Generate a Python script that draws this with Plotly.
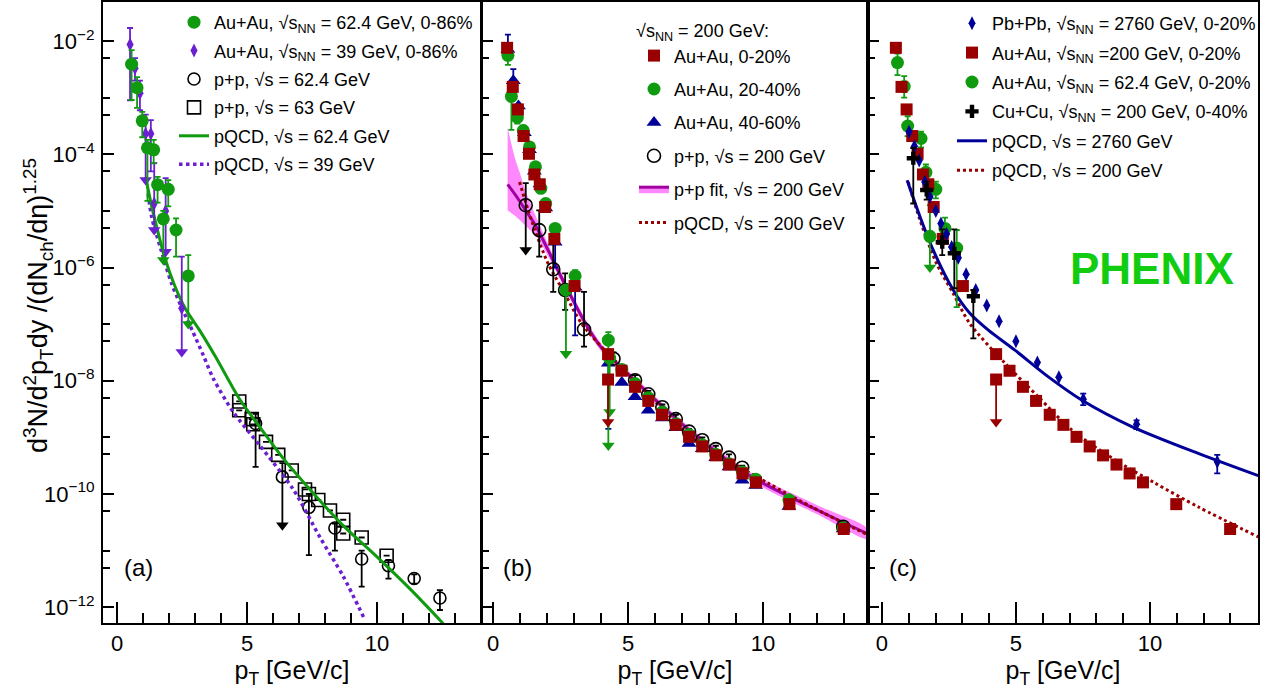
import plotly.graph_objects as go

# ---------------- data ----------------
# Panel (a): Au+Au 62.4 GeV 0-86% (green circles)
a_g_x = [0.56, 0.77, 0.97, 1.17, 1.41, 1.56, 1.78, 1.97, 2.27, 2.74]
a_g_y = [3.9e-3, 1.5e-3, 3.9e-4, 1.3e-4, 1.2e-4, 2.9e-5, 7.2e-6, 2.4e-5, 4.6e-6, 7.1e-7]
a_g_hi = [6.9e-3, 2.3e-3, 5.6e-4, 1.8e-4, 1.8e-4, 4.0e-5, 1.0e-5, 3.5e-5, 7.4e-6, 1.65e-6]
a_g_lo = [9.1e-4, 6.6e-4, 2.0e-4, 1.5e-5, 6.9e-5, 1.4e-5, 1.35e-6, 1.2e-5, 1.55e-6, 1.0e-7]
a_g_arrows = [6, 9]

# Panel (a): Au+Au 39 GeV 0-86% (violet diamonds)
a_v_x = [0.50, 0.69, 0.88, 1.10, 1.30, 1.43, 1.87, 2.49]
a_v_y = [8.7e-3, 3.3e-3, 1.2e-3, 2.3e-4, 2.3e-4, 1.35e-5, 1.0e-5, 1.9e-7]
a_v_hi = [1.7e-2, 5.0e-3, 2.0e-3, 5.0e-4, 4.0e-4, 7.0e-5, 3.8e-5, 1.55e-6]
a_v_lo = [9.0e-4, 2.0e-3, 6.0e-4, 3.5e-5, 5.0e-5, 4.6e-6, 1.9e-6, 3.2e-8]
a_v_arrows = [3, 5, 6, 7]

# Panel (a): p+p 62.4 GeV (open circles)
a_c_x = [5.33, 6.36, 7.38, 8.38, 9.41, 10.44, 11.43, 12.42]
a_c_y = [1.75e-9, 2.0e-10, 5.8e-11, 2.5e-11, 7.1e-12, 5.4e-12, 3.2e-12, 1.45e-12]
a_c_hi = [2.6e-9, 3.5e-10, 1.0e-10, 3.0e-11, 1.0e-11, 6.8e-12, 3.8e-12, 2.0e-12]
a_c_lo = [3.0e-10, 2.8e-11, 8.3e-12, 1.0e-11, 2.3e-12, 3.2e-12, 2.6e-12, 8.9e-13]
a_c_arrows = [1]

# Panel (a): p+p 63 GeV (open squares)
a_s_x = [4.70, 4.70, 5.18, 5.24, 5.73, 6.20, 6.72, 7.23, 7.38, 7.74, 8.19, 8.70, 8.70, 9.41, 10.37]
a_s_y = [4.3e-9, 3.0e-9, 2.1e-9, 1.7e-9, 8.3e-10, 4.9e-10, 2.6e-10, 1.2e-10, 1.0e-10,
         7.8e-11, 5.1e-11, 3.5e-11, 2.0e-11, 1.7e-11, 8.1e-12]

# Panel (a): pQCD curves
a_pq62_x = [1.10, 1.35, 1.59, 1.82, 2.2, 2.62, 3.19, 3.8, 4.73, 5.5, 6.4, 7.42, 8.7, 9.99, 11.27, 12.55]
a_pq62_y = [3.98e-5, 1.12e-5, 3.98e-6, 1.58e-6, 5.0e-7, 1.9e-7, 7.6e-8, 2.6e-8, 4.6e-9, 1.5e-9,
            4.2e-10, 1.2e-10, 2.75e-11, 7.8e-12, 2.1e-12, 5.1e-13]
a_pq39_x = [1.2, 1.33, 1.7, 2.1, 2.5, 2.9, 3.32, 3.7, 4.47, 5.5, 6.78, 7.81, 8.7, 9.54]
a_pq39_y = [2.0e-5, 7.9e-6, 2.0e-6, 5.2e-7, 1.9e-7, 7.6e-8, 2.8e-8, 1.1e-8, 2.8e-9, 7.1e-10,
            1.2e-10, 1.7e-11, 3.5e-12, 5.9e-13]

# Panels (b),(c): Au+Au 200 GeV 0-20% (red squares)
r_x = [0.52, 0.73, 0.92, 1.13, 1.33, 1.53, 1.73, 1.93, 2.27, 3.02, 4.26, 4.26, 4.76, 5.26, 5.75,
       6.26, 6.77, 7.26, 7.75, 8.25, 8.75, 9.24, 9.74, 10.98, 12.99]
r_y = [7.6e-3, 1.55e-3, 6.2e-4, 2.1e-4, 1.02e-4, 4.4e-5, 2.95e-5, 1.17e-5, 3.2e-6, 4.7e-7, 2.95e-8,
       1.05e-8, 1.5e-8, 7.8e-9, 4.4e-9, 2.5e-9, 1.66e-9, 1.02e-9, 6.9e-10, 4.8e-10, 3.3e-10,
       2.3e-10, 1.6e-10, 6.6e-11, 2.4e-11]
r_lo = [None] * 11 + [1.86e-9] + [None] * 13
r_arrows = [11]

# Panel (b): Au+Au 200 GeV 20-40% (green circles)
b_g_x = [0.55, 0.68, 0.90, 1.12, 1.35, 1.57, 1.77, 1.95, 2.30, 2.70, 3.04, 4.27, 4.32, 4.77, 5.26,
         5.75, 6.27, 6.77, 7.26, 7.75, 8.25, 8.74, 9.24, 9.73, 10.96, 12.97]
b_g_y = [5.6e-3, 1.05e-3, 4.47e-4, 2.63e-4, 1.35e-4, 6.0e-5, 2.5e-5, 1.35e-5, 4.9e-6, 4.0e-7, 7.1e-7,
         5.2e-8, 2.5e-8, 1.58e-8, 8.9e-9, 5.0e-9, 2.8e-9, 1.74e-9, 1.12e-9, 7.4e-10, 5.0e-10,
         3.4e-10, 2.45e-10, 1.82e-10, 7.9e-11, 2.5e-11]
b_g_hi = [7.0e-3, 1.4e-3, 5.6e-4, 3.2e-4, 1.6e-4, 7.0e-5, 2.9e-5, 1.6e-5, 5.6e-6, 4.9e-7, 9.0e-7,
          7.2e-8, None, None, None, None, None, None, None, None, None, None, None, None, None, None]
b_g_lo = [3.8e-3, 2.7e-4, 3.5e-4, 2.2e-4, 1.1e-4, 5.0e-5, 2.1e-5, 1.1e-5, 4.2e-6, 3.0e-8, 5.5e-7,
          7.2e-10, 2.8e-9, None, None, None, None, None, None, None, None, None, None, None, None, None]
b_g_arrows = [9, 11, 12]

# Panel (b): Au+Au 200 GeV 40-60% (blue triangles)
b_b_x = [0.55, 0.75, 0.94, 1.16, 1.35, 1.53, 1.74, 1.95, 2.30, 3.04, 4.27, 4.77, 5.26, 5.75, 6.27,
         6.77, 7.26, 7.75, 8.25, 8.74, 9.23, 9.73, 10.96, 12.97]
b_b_y = [7.1e-3, 2.0e-3, 7.1e-4, 2.4e-4, 1.2e-4, 5.0e-5, 3.0e-5, 1.12e-5, 2.8e-6, 4.47e-7, 2.04e-8,
         9.3e-9, 5.2e-9, 3.0e-9, 2.2e-9, 1.48e-9, 7.8e-10, 6.3e-10, 4.37e-10, 3.0e-10, 1.74e-10,
         1.41e-10, 6.0e-11, 2.4e-11]
b_b_hi = [1.3e-2, 3.2e-3] + [None] * 22
b_b_lo = [None] * 8 + [1.0e-6, 6.3e-8, 1.41e-9] + [None] * 13

# Panel (b): p+p 200 GeV (open circles)
b_c_x = [1.21, 1.71, 2.23, 2.67, 3.37, 4.46, 5.26, 5.75, 6.27, 6.77, 7.26, 7.75, 8.25, 8.74, 9.23, 12.97]
b_c_y = [1.26e-5, 4.57e-6, 9.3e-7, 4.0e-7, 8.1e-8, 2.45e-8, 1.02e-8, 5.75e-9, 3.4e-9, 2.1e-9,
         1.26e-9, 8.9e-10, 6.2e-10, 4.37e-10, 2.9e-10, 2.63e-11]
b_c_hi = [3.1e-5, 1.02e-5, 2.7e-6, 7.9e-7, 3.7e-7, 3.16e-8, 1.26e-8, 6.6e-9, 3.8e-9, 2.5e-9,
          1.41e-9, 1.0e-9, 7.1e-10, 5.0e-10, 3.16e-10, 2.95e-11]
b_c_lo = [2.04e-6, 1.55e-6, 3.7e-7, 1.78e-7, 4.0e-8, 2.24e-8, 9.5e-9, 5.4e-9, 3.16e-9, 2.0e-9,
          1.17e-9, 8.3e-10, 5.75e-10, 4.07e-10, 2.7e-10, 2.4e-11]
b_c_arrows = [0]

# Panel (b): p+p fit with band
fit_x = [0.54, 0.8, 1.0, 1.19, 1.5, 1.68, 2.23, 2.79, 3.5, 4.02, 5.26, 7.11, 9.58, 12.05, 13.9]
fit_y = [2.95e-5, 2.0e-5, 1.45e-5, 1.05e-5, 6.3e-6, 4.47e-6, 1.32e-6, 3.8e-7, 8.9e-8, 3.8e-8,
         1.0e-8, 1.55e-9, 2.0e-10, 5.1e-11, 1.95e-11]
fit_up = [2.95e-4, 8.9e-5, 4.57e-5, 2.34e-5, 1.0e-5, 6.3e-6, 1.62e-6, 4.57e-7, 1.05e-7, 4.47e-8,
          1.15e-8, 1.78e-9, 2.34e-10, 6.2e-11, 2.4e-11]
fit_dn = [1.02e-5, 8.3e-6, 6.8e-6, 5.5e-6, 4.0e-6, 3.16e-6, 1.07e-6, 3.16e-7, 7.6e-8, 3.24e-8,
          8.7e-9, 1.35e-9, 1.7e-10, 4.27e-11, 1.58e-11]

# pQCD 200 GeV (panels b, c) and 2760 GeV (panel c)
pq200_x = [0.98, 1.42, 2.04, 2.66, 3.28, 4.59, 5.83, 7.08, 8.69, 10.19, 11.8, 14.04]
pq200_y = [3.24e-5, 6.9e-6, 1.17e-6, 3.47e-7, 1.02e-7, 2.04e-8, 5.2e-9, 1.35e-9, 4.0e-10,
           1.55e-10, 5.9e-11, 1.74e-11]
pq2760_x = [0.94, 1.42, 1.91, 2.66, 3.28, 3.97, 4.96, 6.21, 7.45, 9.32, 11.8, 14.04]
pq2760_y = [3.47e-5, 7.9e-6, 2.04e-6, 4.0e-7, 1.55e-7, 7.8e-8, 3.47e-8, 1.17e-8, 4.57e-9,
            1.55e-9, 5.2e-10, 2.1e-10]

# Panel (c): Pb+Pb 2760 GeV 0-20% (blue diamonds)
c_p_x = [1.01, 1.21, 1.39, 1.60, 1.79, 2.01, 2.20, 2.41, 2.60, 2.85, 3.14, 3.50, 3.91, 4.37, 5.0,
         5.8, 6.6, 7.51, 9.5, 12.51]
c_p_y = [2.5e-4, 1.38e-4, 7.8e-5, 3.24e-5, 1.78e-5, 1.0e-5, 6.0e-6, 3.9e-6, 2.3e-6, 1.48e-6, 7.6e-7,
         4.0e-7, 2.14e-7, 1.12e-7, 5.0e-8, 2.1e-8, 1.15e-8, 4.7e-9, 1.7e-9, 3.7e-10]
c_p_hi = [None] * 17 + [5.9e-9, 2.0e-9, 4.9e-10]
c_p_lo = [None] * 17 + [3.7e-9, 1.4e-9, 2.3e-10]

# Panel (c): Au+Au 62.4 GeV 0-20% (green circles)
c_g_x = [0.58, 0.83, 0.96, 1.46, 1.64, 1.79, 2.01, 2.35, 2.79]
c_g_y = [4.17e-3, 1.58e-3, 3.16e-4, 1.9e-4, 4.8e-5, 3.55e-6, 2.4e-5, 4.9e-6, 2.2e-6]
c_g_hi = [6.0e-3, 2.4e-3, 4.7e-4, 2.5e-4, 6.6e-5, 1.26e-5, 3.3e-5, 7.6e-6, 4.6e-6]
c_g_lo = [2.5e-3, 1.0e-3, 2.1e-4, 1.32e-4, 3.16e-5, 1.0e-6, 1.66e-5, 3.16e-6, 2.0e-7]
c_g_arrows = [5]

# Panel (c): Cu+Cu 200 GeV 0-40% (black crosses)
c_k_x = [1.17, 1.67, 2.25, 2.70, 3.41]
c_k_y = [8.5e-5, 2.34e-5, 2.8e-6, 1.78e-6, 3.1e-7]
c_k_hi = [1.29e-4, 3.3e-5, 4.7e-6, 4.7e-6, 4.0e-7]
c_k_lo = [1.35e-5, 1.58e-5, 1.66e-6, 4.3e-7, 5.6e-8]

# axis ticks
y_major = [1e-2, 1e-4, 1e-6, 1e-8, 1e-10, 1e-12]
y_major_text = ["10<sup>\u22122</sup>", "10<sup>\u22124</sup>", "10<sup>\u22126</sup>",
                "10<sup>\u22128</sup>", "10<sup>\u221210</sup>", "10<sup>\u221212</sup>"]
y_minor = [5e-3, 1e-3, 5e-4, 5e-5, 1e-5, 5e-6, 5e-7, 1e-7, 5e-8, 5e-9, 1e-9, 5e-10,
           5e-11, 1e-11, 5e-12]
x_major = [0, 5, 10]
x_minor = [1, 2, 3, 4, 6, 7, 8, 9, 11, 12, 13, 14]

# ---------------- styles ----------------
GREEN = "#109a10"
VIOLET = "#6a1fd1"
RED = "#990000"
BLUE = "#000099"
BLACK = "#000000"
MAG = "#a000a0"
PINK = "#ff88ff"
FONT = "Liberation Sans"

fig = go.Figure()


def errs(y, hi, lo):
    n = len(y)
    hi = hi if hi is not None else [None] * n
    lo = lo if lo is not None else [None] * n
    p = [(h - v) if h is not None else 0 for v, h in zip(y, hi)]
    m = [(v - l) if l is not None else 0 for v, l in zip(y, lo)]
    return p, m


def points(ax, x, y, sym, color, size, hi=None, lo=None, arrows=(), open_=False, lw=1.6):
    p, m = errs(y, hi, lo)
    marker = dict(symbol=sym, color=color, size=size)
    if open_:
        marker = dict(symbol=sym + "-open", color=color, size=size, line=dict(width=lw, color=color))
    fig.add_trace(go.Scatter(
        x=x, y=y, mode="markers", xaxis="x" + ax, yaxis="y" + ax, showlegend=False,
        marker=marker,
        error_y=dict(type="data", symmetric=False, array=p, arrayminus=m,
                     color=color, thickness=1.8, width=3)))
    if arrows:
        fig.add_trace(go.Scatter(
            x=[x[i] for i in arrows], y=[lo[i] for i in arrows], mode="markers",
            xaxis="x" + ax, yaxis="y" + ax, showlegend=False,
            marker=dict(symbol="triangle-down", color=color, size=11)))


def curve(ax, x, y, color, dash="solid", width=3):
    fig.add_trace(go.Scatter(
        x=x, y=y, mode="lines", xaxis="x" + ax, yaxis="y" + ax, showlegend=False,
        line=dict(color=color, width=width, dash=dash, shape="spline", smoothing=0.8)))


# ---- panel (a)
points("", a_s_x, a_s_y, "square", BLACK, 13, open_=True)
points("", a_c_x, a_c_y, "circle", BLACK, 12, a_c_hi, a_c_lo, a_c_arrows, open_=True)
curve("", a_pq39_x, a_pq39_y, VIOLET, "dot", 3.5)
curve("", a_pq62_x, a_pq62_y, GREEN, "solid", 3)
points("", a_v_x, a_v_y, "diamond-tall", VIOLET, 10, a_v_hi, a_v_lo, a_v_arrows)
points("", a_g_x, a_g_y, "circle", GREEN, 13, a_g_hi, a_g_lo, a_g_arrows)

# ---- panel (b)
fig.add_trace(go.Scatter(x=fit_x + fit_x[::-1], y=fit_up + fit_dn[::-1], fill="toself",
                         fillcolor=PINK, line=dict(width=0, shape="spline", smoothing=0.8),
                         mode="lines", xaxis="x2", yaxis="y2", showlegend=False))
curve("2", fit_x, fit_y, MAG, "solid", 3)
curve("2", pq200_x, pq200_y, RED, "dot", 3)
points("2", b_b_x, b_b_y, "triangle-up", BLUE, 13, b_b_hi, b_b_lo)
points("2", b_c_x, b_c_y, "circle", BLACK, 13, b_c_hi, b_c_lo, b_c_arrows, open_=True)
points("2", b_g_x, b_g_y, "circle", GREEN, 13, b_g_hi, b_g_lo, b_g_arrows)
points("2", r_x, r_y, "square", RED, 12, None, r_lo, r_arrows)

# ---- panel (c)
curve("3", pq200_x, pq200_y, RED, "dot", 3)
curve("3", pq2760_x, pq2760_y, BLUE, "solid", 3)
points("3", c_g_x, c_g_y, "circle", GREEN, 13, c_g_hi, c_g_lo, c_g_arrows)
points("3", r_x, r_y, "square", RED, 12, None, r_lo, r_arrows)
points("3", c_p_x, c_p_y, "diamond-tall", BLUE, 10, c_p_hi, c_p_lo)
points("3", c_k_x, c_k_y, "cross", BLACK, 11, c_k_hi, c_k_lo)


# ---------------- legends (proxy entries) ----------------
def lg_marker(leg, name, sym, color, size, open_=False):
    mk = dict(symbol=sym, color=color, size=size)
    if open_:
        mk = dict(symbol=sym + "-open", color=color, size=size, line=dict(width=1.6, color=color))
    fig.add_trace(go.Scatter(x=[None], y=[None], mode="markers", marker=mk, name=name,
                             legend=leg, legendgroup=leg + name))


def lg_line(leg, name, color, dash, width=3, fill=None):
    kw = {}
    if fill:
        kw = dict(fill="toself", fillcolor=fill)
    fig.add_trace(go.Scatter(x=[None], y=[None], mode="lines", name=name,
                             line=dict(color=color, dash=dash, width=width),
                             legend=leg, legendgroup=leg + name, **kw))


SNN = "\u221as<sub>NN</sub>"
SS = "\u221as"
lg_marker("legend", f"Au+Au, {SNN} = 62.4 GeV, 0-86%", "circle", GREEN, 13)
lg_marker("legend", f"Au+Au, {SNN} = 39 GeV, 0-86%", "diamond-tall", VIOLET, 10)
lg_marker("legend", f"p+p, {SS} = 62.4 GeV", "circle", BLACK, 12, True)
lg_marker("legend", f"p+p, {SS} = 63 GeV", "square", BLACK, 13, True)
lg_line("legend", f"pQCD, {SS} = 62.4 GeV", GREEN, "solid")
lg_line("legend", f"pQCD, {SS} = 39 GeV", VIOLET, "dot", 3.5)

lg_marker("legend2", "Au+Au, 0-20%", "square", RED, 12)
lg_marker("legend2", "Au+Au, 20-40%", "circle", GREEN, 13)
lg_marker("legend2", "Au+Au, 40-60%", "triangle-up", BLUE, 13)
lg_marker("legend2", f"p+p, {SS} = 200 GeV", "circle", BLACK, 13, True)
lg_line("legend2", f"p+p fit, {SS} = 200 GeV", MAG, "solid", 3, PINK)
lg_line("legend2", f"pQCD, {SS} = 200 GeV", RED, "dot")

lg_marker("legend3", f"Pb+Pb, {SNN} = 2760 GeV, 0-20%", "diamond-tall", BLUE, 10)
lg_marker("legend3", f"Au+Au, {SNN} =200 GeV, 0-20%", "square", RED, 12)
lg_marker("legend3", f"Au+Au, {SNN} = 62.4 GeV, 0-20%", "circle", GREEN, 13)
lg_marker("legend3", f"Cu+Cu, {SNN} = 200 GeV, 0-40%", "cross", BLACK, 11)
lg_line("legend3", f"pQCD, {SS} = 2760 GeV", BLUE, "solid")
lg_line("legend3", f"pQCD, {SS} = 200 GeV", RED, "dot")

W, H = 1272, 698
legfont = dict(family=FONT, size=18, color="black")
common_leg = dict(font=legfont, bgcolor="rgba(0,0,0,0)", borderwidth=0, xanchor="left",
                  yanchor="top", itemsizing="trace")

# ---------------- axes ----------------
ydom = [1 - 623 / H, 1 - 2 / H]
xdoms = [[103 / W, 481 / W], [482 / W, 868 / W], [868 / W, 1258 / W]]
xranges = [[-0.54, 14.0], [-0.41, 13.89], [-0.52, 14.03]]

axis_common = dict(showline=True, linecolor="black", linewidth=2, mirror=True, showgrid=False,
                   zeroline=False, ticks="inside", tickcolor="black", tickwidth=2)

layout = dict(width=W, height=H, margin=dict(l=0, r=0, t=0, b=0),
              paper_bgcolor="white", plot_bgcolor="white",
              font=dict(family=FONT, size=18, color="black"))
for i, (dom, rng) in enumerate(zip(xdoms, xranges)):
    sfx = "" if i == 0 else str(i + 1)
    layout["xaxis" + sfx] = dict(
        axis_common, domain=dom, range=rng, anchor="y" + sfx,
        tickmode="array", tickvals=x_major, ticktext=[str(v) for v in x_major],
        ticklen=21, tickfont=dict(family=FONT, size=22),
        minor=dict(tickmode="array", tickvals=x_minor, ticklen=10, ticks="inside",
                   tickcolor="black", tickwidth=2),
        title=dict(text="p<sub>T</sub> [GeV/c]", font=dict(family=FONT, size=25), standoff=6))
    layout["yaxis" + sfx] = dict(
        axis_common, domain=ydom, type="log", range=[-12.28, -1.31], anchor="x" + sfx,
        tickmode="array", tickvals=y_major, ticktext=y_major_text, ticklen=11,
        showticklabels=(i == 0), tickfont=dict(family=FONT, size=22), ticklabelstandoff=2,
        minor=dict(tickmode="array", tickvals=y_minor, ticklen=7, ticks="inside",
                   tickcolor="black", tickwidth=2))

layout["legend"] = dict(common_leg, x=174 / W, y=1 - 4 / H, tracegroupgap=2)
layout["legend2"] = dict(common_leg, x=634 / W, y=1 - 14 / H, tracegroupgap=7,
                         title=dict(text=f"{SNN} = 200 GeV:", font=legfont))
layout["legend3"] = dict(common_leg, x=952 / W, y=1 - 5 / H, tracegroupgap=3)

fig.update_layout(**layout)

# y-axis title
fig.add_annotation(
    x=38 / W, y=1 - 306 / H, xref="paper", yref="paper", textangle=-90, showarrow=False,
    xanchor="center", yanchor="middle",
    text="d<sup>3</sup>N/d<sup>2</sup>p<sub>T</sub>dy /(dN<sub>ch</sub>/d\u03b7)<sup>1.25</sup>",
    font=dict(family=FONT, size=27))

# panel labels and experiment tag
for xr, lab in zip(xdoms, ["(a)", "(b)", "(c)"]):
    fig.add_annotation(x=xr[0] + 35 / W, y=1 - 567 / H, xref="paper", yref="paper",
                       xanchor="center", yanchor="middle",
                       text=lab, showarrow=False, font=dict(family=FONT, size=24))
fig.add_annotation(x=1152 / W, y=1 - 268 / H, xref="paper", yref="paper", text="<b>PHENIX</b>",
                   xanchor="center", yanchor="middle",
                   showarrow=False, font=dict(family=FONT, size=44, color="#11cc11"))

fig.write_html("out.html", config={"displayModeBar": False},
               post_script="document.body.style.margin='0px';")
